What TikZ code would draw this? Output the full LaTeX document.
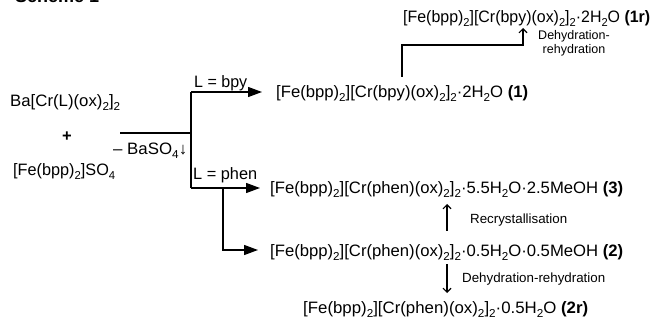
\documentclass[tikz,border=0pt]{standalone}
\usepackage{fontspec}
\usepackage{graphicx}
\setmainfont{Liberation Sans}
\usetikzlibrary{arrows.meta}
% lowered subscript in the running text face
\newcommand\sbt[1]{\raisebox{-4pt}{\fontsize{11.5}{12}\selectfont #1}}
% set a text line to a given width, keeping its height
\newcommand\fitw[2]{\resizebox{#1}{\height}{#2}}
\begin{document}
\begin{tikzpicture}[x=1pt,y=-1pt,
  chem/.style={font=\fontsize{16.5}{19}\selectfont, inner sep=0pt, anchor=base west},
  note/.style={font=\fontsize{13.3}{15}\selectfont, inner sep=0pt, anchor=base west},
  link/.style={line width=1.3pt},
  feed/.style={link, -{Triangle[length=14pt,width=10pt]}},
  turn/.style={line width=1.1pt, -{Straight Barb[length=4pt,width=8pt]}}]
\useasboundingbox (0,0) rectangle (655,320);

% title
\node[inner sep=0pt, anchor=base west, font=\fontsize{18}{20}\selectfont\bfseries] (title) at (15,2.5) {Scheme 1};

% starting materials
\node[chem] (ba) at (10,107) {\fitw{110pt}{Ba[Cr(L)(ox)\sbt{2}]\sbt{2}}};
\node[inner sep=0pt, font=\fontsize{16.5}{19}\selectfont\bfseries] (plus) at (67,137) {+};
\node[chem] (fe) at (13,176) {\fitw{102pt}{[Fe(bpp)\sbt{2}]SO\sbt{4}}};
\node[chem] (bs) at (113,155) {\fitw{74pt}{-- BaSO\sbt{4}↓}};

% products
\node[chem] (p1r) at (403,23) {\fitw{247pt}{[Fe(bpp)\sbt{2}][Cr(bpy)(ox)\sbt{2}]\sbt{2}·2H\sbt{2}O \textbf{(1r)}}};
\node[chem] (p1) at (276,98) {\fitw{252pt}{[Fe(bpp)\sbt{2}][Cr(bpy)(ox)\sbt{2}]\sbt{2}·2H\sbt{2}O \textbf{(1)}}};
\node[chem] (p3) at (270,194) {\fitw{353pt}{[Fe(bpp)\sbt{2}][Cr(phen)(ox)\sbt{2}]\sbt{2}·5.5H\sbt{2}O·2.5MeOH \textbf{(3)}}};
\node[chem] (p2) at (270,256) {\fitw{353pt}{[Fe(bpp)\sbt{2}][Cr(phen)(ox)\sbt{2}]\sbt{2}·0.5H\sbt{2}O·0.5MeOH \textbf{(2)}}};
\node[chem] (p2r) at (303,313) {\fitw{285pt}{[Fe(bpp)\sbt{2}][Cr(phen)(ox)\sbt{2}]\sbt{2}·0.5H\sbt{2}O \textbf{(2r)}}};

% branch labels
\node[chem] (lbpy) at (194,88) {\fitw{53pt}{L = bpy}};
\node[chem] (lphen) at (193,180) {\fitw{64pt}{L = phen}};

% side notes
\node[inner sep=0pt, align=center, font=\fontsize{12.5}{14}\selectfont] (n1) at (574,43) {Dehydration-\\rehydration};
\node[note] (n2) at (470,224) {\fitw{97pt}{Recrystallisation}};
\node[note] (n3) at (462,282) {\fitw{143pt}{Dehydration-rehydration}};

% junction points of the reaction tree
\coordinate (m0) at (120,133);
\coordinate (m1) at (191,133);
\coordinate (jb) at (191,92);
\coordinate (jp) at (191,188);
\coordinate (jq) at (223,188);
\coordinate (jr) at (223,250);

\draw[link] (m0) -- (m1);
\draw[link] (jb) -- (jp);
\draw[feed, shorten >=14pt] (jb) -- (jb -| p1.west);
\draw[feed, shorten >=10pt] (jp) -- (jp -| p3.west);
\draw[feed, shorten >=12pt] (jq) -- (jr) -- (jr -| p2.west);

% follow-up steps
\coordinate (d0) at (402,77);
\coordinate (d1) at (402,45);
\coordinate (d2) at (523,45);
\coordinate (d3) at (523,28);
\draw[turn] (d0) -- (d1) -- (d2) -- (d3);

\coordinate (r0) at (447,231);
\coordinate (r1) at (447,204);
\draw[turn] (r0) -- (r1);

\coordinate (h0) at (447,264);
\coordinate (h1) at (447,293);
\draw[turn] (h0) -- (h1);
\end{tikzpicture}
\end{document}
